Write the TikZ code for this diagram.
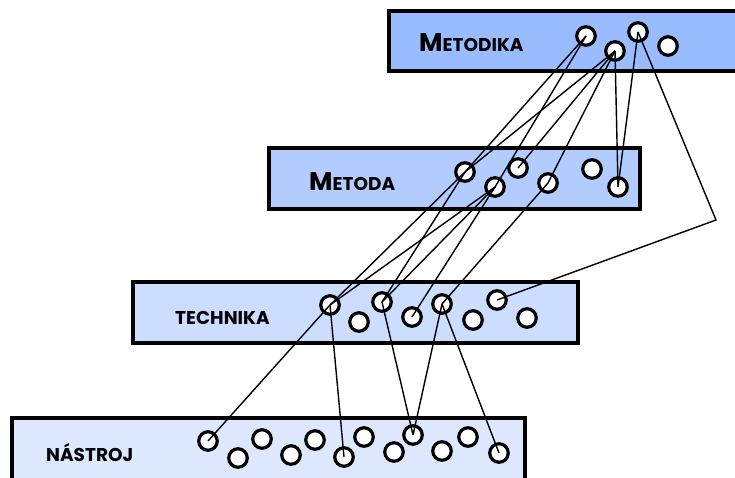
\documentclass[tikz,border=0pt]{standalone}
\usepackage{fontspec}
\setmainfont{Poppins}
\definecolor{cMetodika}{RGB}{153,187,255}
\definecolor{cMetoda}{RGB}{179,204,255}
\definecolor{cTechnika}{RGB}{204,221,255}
\definecolor{cNastroj}{RGB}{221,232,255}
\tikzset{
  layerbox/.style={draw=black, line width=3.5pt},
  dot/.style={circle, draw=black, fill=white, line width=3.2pt, minimum size=18.5pt, inner sep=0pt},
  link/.style={draw=black, line width=1.4pt},
  biglbl/.style={anchor=west, inner sep=0pt, font=\bfseries},
  smalllbl/.style={anchor=west, inner sep=0pt, font=\bfseries\fontsize{18.5}{18.5}\selectfont},
}
\newcommand{\bigM}[2]{{\fontsize{25.5}{25.5}\selectfont #1}{\fontsize{18.5}{18.5}\selectfont #2}}
\begin{document}
\begin{tikzpicture}[x=1pt,y=-1pt]
\useasboundingbox (0,0) rectangle (735,478);
\clip (0,0) rectangle (735,478);
% boxes
\path[layerbox, fill=cMetodika] (389,11) rectangle (760,71);
\path[layerbox, fill=cMetoda] (269,148) rectangle (640,209);
\path[layerbox, fill=cTechnika] (133,282) rectangle (578,343);
\path[layerbox, fill=cNastroj] (12,418) rectangle (525,500);
% labels
\node[biglbl] (lMetodika) at (419,43) {\bigM{M}{ETODIKA}};
\node[biglbl] (lMetoda) at (309,182) {\bigM{M}{ETODA}};
\node[smalllbl] (lTechnika) at (175,318) {TECHNIKA};
\node[smalllbl] (lNastroj) at (46,453) {NÁSTROJ};
% circles: Metodika
\node[dot] (m1) at (586,36) {};
\node[dot] (m2) at (615,51) {};
\node[dot] (m3) at (638,32) {};
\node[dot] (m4) at (668,46) {};
% Metoda
\node[dot] (d1) at (465,172) {};
\node[dot] (d2) at (495,187) {};
\node[dot] (d3) at (518,168) {};
\node[dot] (d4) at (548,183) {};
\node[dot] (d5) at (592,169) {};
\node[dot] (d6) at (618,187) {};
% Technika
\node[dot] (t1) at (330,305) {};
\node[dot] (t2) at (359,322) {};
\node[dot] (t3) at (382,302) {};
\node[dot] (t4) at (412,317) {};
\node[dot] (t5) at (442,304) {};
\node[dot] (t6) at (473,320) {};
\node[dot] (t7) at (497,300) {};
\node[dot] (t8) at (527,318) {};
% Nastroj
\node[dot] (n1) at (208,441) {};
\node[dot] (n2) at (238,458) {};
\node[dot] (n3) at (262,439) {};
\node[dot] (n4) at (291,455) {};
\node[dot] (n5) at (315,440) {};
\node[dot] (n6) at (344,457) {};
\node[dot] (n7) at (364,437) {};
\node[dot] (n8) at (394,452) {};
\node[dot] (n9) at (413,435) {};
\node[dot] (n10) at (442,451) {};
\node[dot] (n11) at (468,437) {};
\node[dot] (n12) at (499,453) {};
\coordinate (corner) at (716,220);
% connectors Metodika -> Metoda
\path[link] (m1.center) -- (d1.center);
\path[link] (m1.center) -- (d2.center);
\path[link] (m2.center) -- (d1.center);
\path[link] (m2.center) -- (d3.center);
\path[link] (m2.center) -- (d4.center);
\path[link] (m2.center) -- (d6.center);
\path[link] (m3.center) -- (d6.center);
\path[link] (m3.center) -- (corner) -- (t7.center);
% Metoda -> Technika
\path[link] (d1.center) -- (t1.center);
\path[link] (d1.center) -- (t3.center);
\path[link] (d2.center) -- (t1.center);
\path[link] (d2.center) -- (t3.center);
\path[link] (d2.center) -- (t4.center);
\path[link] (d4.center) -- (t5.center);
% Technika -> Nastroj
\path[link] (t1.center) -- (n1.center);
\path[link] (t1.center) -- (n6.center);
\path[link] (t3.center) -- (n9.center);
\path[link] (t5.center) -- (n9.center);
\path[link] (t5.center) -- (n12.center);
\end{tikzpicture}
\end{document}
